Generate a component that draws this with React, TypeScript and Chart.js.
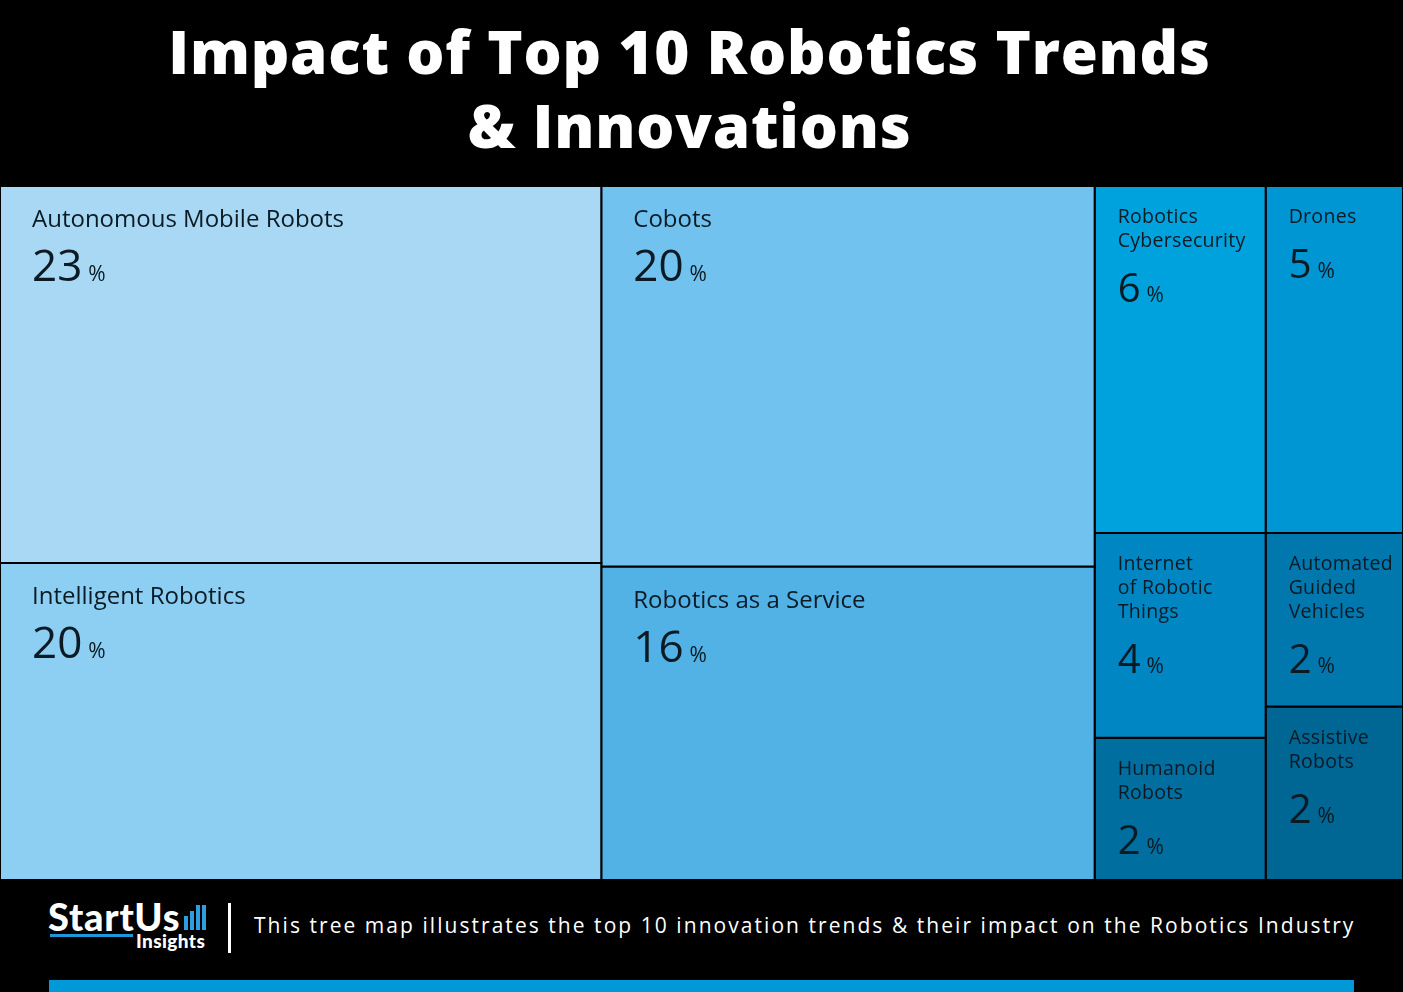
import React, { useEffect, useRef } from "react";
import { Chart, registerables } from "chart.js";

Chart.register(...registerables);

// ---- data ----
const trendNames: string[][] = [
  ["Autonomous Mobile Robots"],
  ["Intelligent Robotics"],
  ["Cobots"],
  ["Robotics as a Service"],
  ["Robotics", "Cybersecurity"],
  ["Drones"],
  ["Internet", "of Robotic", "Things"],
  ["Humanoid", "Robots"],
  ["Automated", "Guided", "Vehicles"],
  ["Assistive", "Robots"],
];
// impact share (area of each tile)
const impactShare = [23.3, 19.6, 19.3, 15.9, 6.1, 4.9, 3.6, 2.5, 2.45, 2.45];
// rounded percentage printed on each tile
const impactLabel = [23, 20, 20, 16, 6, 5, 4, 2, 2, 2];
const cellColors = [
  "#a9d8f5",
  "#8ccff2",
  "#72c2ef",
  "#52b2e5",
  "#00a2de",
  "#0095d3",
  "#0086c2",
  "#006fa0",
  "#0078ae",
  "#006694",
];
// tree structure: columns -> sub-columns -> stacked tiles (indices)
const columnGroups: number[][][] = [[[0, 1]], [[2, 3]], [[4, 6, 7], [5, 8, 9]]];

const titleLines = ["Impact of Top 10 Robotics Trends", "& Innovations"];
const footerText =
  "This tree map illustrates the top 10 innovation trends & their impact on the Robotics Industry";

type Rect = { x0: number; x1: number; y0: number; y1: number };

function layoutTiles(): Rect[] {
  const total = impactShare.reduce((a, b) => a + b, 0);
  const rects: Rect[] = new Array(impactShare.length);
  let xc = 0;
  for (const col of columnGroups) {
    const colSum = col.flat().reduce((a, i) => a + impactShare[i], 0);
    const colW = (colSum / total) * 100;
    let sx = xc;
    for (const sub of col) {
      const subSum = sub.reduce((a, i) => a + impactShare[i], 0);
      const subW = (subSum / colSum) * colW;
      let yc = 0;
      for (const i of sub) {
        const h = (impactShare[i] / subSum) * 100;
        rects[i] = { x0: sx, x1: sx + subW, y0: yc, y1: yc + h };
        yc += h;
      }
      sx += subW;
    }
    xc += colW;
  }
  return rects;
}

export default function App() {
  const canvasRef = useRef<HTMLCanvasElement | null>(null);

  useEffect(() => {
    document.body.style.margin = "0";
    document.body.style.background = "#000";
    const rects = layoutTiles();

    const labelPlugin = {
      id: "tileLabels",
      afterDatasetsDraw(chart: any) {
        const { ctx } = chart;
        const xs = chart.scales.x;
        const ys = chart.scales.y;
        rects.forEach((r, i) => {
          const px0 = xs.getPixelForValue(r.x0);
          const px1 = xs.getPixelForValue(r.x1);
          const py0 = ys.getPixelForValue(r.y0);
          const big = px1 - px0 > 300;
          const left = px0 + (big ? 32 : 23);
          ctx.save();
          ctx.fillStyle = "#0b1a23";
          ctx.textAlign = "left";
          ctx.textBaseline = "alphabetic";
          const base = py0 + (big ? 41 : 37);
          const lh = 24;
          ctx.font = `${big ? 24 : 19.5}px "Open Sans"`;
          if (!big) (ctx as any).letterSpacing = "0.3px";
          trendNames[i].forEach((line, k) => {
            ctx.fillText(line, left, base + k * lh);
          });
          (ctx as any).letterSpacing = "0px";
          const last = base + (trendNames[i].length - 1) * lh;
          const nb = big ? py0 + 95 : last + 55;
          ctx.font = `${big ? 44 : 40}px "Open Sans"`;
          const num = String(impactLabel[i]);
          ctx.fillText(num, left, nb);
          const w = ctx.measureText(num).width;
          ctx.font = `21px "Open Sans"`;
          ctx.fillText("%", left + w + 6, nb);
          ctx.restore();
        });
      },
    };

    const datasets = rects.map((r, i) => ({
      label: trendNames[i].join(" "),
      data: [
        { x: r.x0, y: r.y0 },
        { x: r.x1, y: r.y0 },
        { x: r.x1, y: r.y1 },
        { x: r.x0, y: r.y1 },
        { x: r.x0, y: r.y0 },
      ],
      showLine: true,
      fill: "shape",
      backgroundColor: cellColors[i],
      borderColor: "#000000",
      borderWidth: 2,
      borderJoinStyle: "miter",
      pointRadius: 0,
      pointHoverRadius: 0,
      tension: 0,
    }));

    const chart = new Chart(canvasRef.current as HTMLCanvasElement, {
      type: "scatter",
      data: { datasets: datasets as any },
      options: {
        animation: false,
        responsive: true,
        maintainAspectRatio: false,
        layout: { padding: 0 },
        events: [],
        plugins: {
          legend: { display: false },
          tooltip: { enabled: false },
          title: { display: false },
        },
        scales: {
          x: { type: "linear", min: 0, max: 100, display: false },
          y: { type: "linear", min: 0, max: 100, reverse: true, display: false },
        },
      },
      plugins: [labelPlugin],
    });
    return () => chart.destroy();
  }, []);

  return (
    <div
      style={{
        position: "fixed",
        left: 0,
        top: 0,
        width: 1403,
        height: 992,
        background: "#000",
        overflow: "hidden",
      }}
    >
      <div
        style={{
          position: "absolute",
          left: -12,
          top: 14,
          width: 1403,
          textAlign: "center",
          color: "#fff",
          fontFamily: "'Open Sans', Lato, sans-serif",
          fontWeight: 800,
          fontSize: 60,
          letterSpacing: 0.8,
          lineHeight: "74px",
        }}
      >
        {titleLines[0]}
        <br />
        {titleLines[1]}
      </div>
      <div style={{ position: "absolute", left: 0, top: 186, width: 1403, height: 694 }}>
        <canvas ref={canvasRef} />
      </div>
      {/* footer */}
      <div
        style={{
          position: "absolute",
          left: 48,
          top: 894,
          color: "#fff",
          fontFamily: "Lato, sans-serif",
          fontWeight: 900,
          fontSize: 38,
          lineHeight: "44px",
          letterSpacing: 0.8,
        }}
      >
        StartUs
      </div>
      <div style={{ position: "absolute", left: 184, top: 905, width: 24, height: 25 }}>
        {[14, 19, 25, 25].map((h, k) => (
          <div
            key={k}
            style={{
              position: "absolute",
              left: k * 6,
              bottom: 0,
              width: 4,
              height: h,
              background: "#2c9fe0",
            }}
          />
        ))}
      </div>
      <div style={{ position: "absolute", left: 50, top: 934, width: 83, height: 3, background: "#1e98d8" }} />
      <div
        style={{
          position: "absolute",
          left: 136,
          top: 929,
          color: "#fff",
          fontFamily: "Lato, sans-serif",
          fontWeight: 900,
          fontSize: 19,
          lineHeight: "24px",
          letterSpacing: 0.4,
        }}
      >
        Insights
      </div>
      <div style={{ position: "absolute", left: 228, top: 903, width: 3, height: 50, background: "#fff" }} />
      <div
        style={{
          position: "absolute",
          left: 254,
          top: 910,
          color: "#fff",
          fontFamily: "'Open Sans', sans-serif",
          fontSize: 21,
          letterSpacing: 2.05,
          lineHeight: "30px",
          whiteSpace: "nowrap",
        }}
      >
        {footerText}
      </div>
      <div style={{ position: "absolute", left: 49, top: 980, width: 1305, height: 12, background: "#0099d8" }} />
    </div>
  );
}
